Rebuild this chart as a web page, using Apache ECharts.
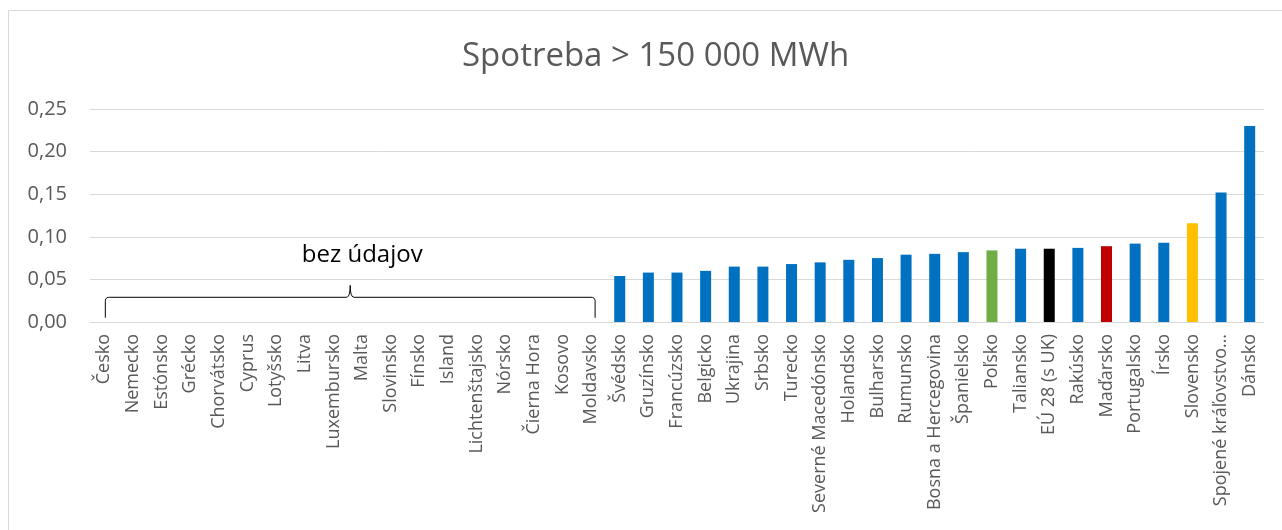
<!DOCTYPE html>
<html>
<head>
<meta charset="utf-8">
<script src="https://cdn.jsdelivr.net/npm/echarts@6/dist/echarts.min.js"></script>
<style>
  html, body { margin: 0; padding: 0; background: #fff; }
  #chart { width: 1282px; height: 530px; }
</style>
</head>
<body>
<div id="chart"></div>
<script>
// krajiny (bez údajov = prvých 18)
const categories = [
  'Česko', 'Nemecko', 'Estónsko', 'Grécko', 'Chorvátsko', 'Cyprus', 'Lotyšsko', 'Litva',
  'Luxembursko', 'Malta', 'Slovinsko', 'Fínsko', 'Island', 'Lichtenštajsko', 'Nórsko',
  'Čierna Hora', 'Kosovo', 'Moldavsko',
  'Švédsko', 'Gruzínsko', 'Francúzsko', 'Belgicko', 'Ukrajina', 'Srbsko', 'Turecko',
  'Severné Macedónsko', 'Holandsko', 'Bulharsko', 'Rumunsko', 'Bosna a Hercegovina',
  'Španielsko', 'Poľsko', 'Taliansko', 'EÚ 28 (s UK)', 'Rakúsko', 'Maďarsko',
  'Portugalsko', 'Írsko', 'Slovensko', 'Spojené kráľovstvo…', 'Dánsko'
];
// hodnoty (null = bez údajov)
const values = [
  null, null, null, null, null, null, null, null, null, null, null, null, null, null, null,
  null, null, null,
  0.054, 0.058, 0.058, 0.060, 0.065, 0.065, 0.068, 0.070, 0.073, 0.075, 0.079, 0.080,
  0.082, 0.084, 0.086, 0.086, 0.087, 0.089, 0.092, 0.093, 0.116, 0.152, 0.230
];
const yTicks = [0, 0.05, 0.10, 0.15, 0.20, 0.25];

// farby zvýraznených stĺpcov
const barColor = '#0070C0';
const highlight = {
  'Poľsko': '#70AD47',
  'EÚ 28 (s UK)': '#000000',
  'Maďarsko': '#C00000',
  'Slovensko': '#FFC000'
};

const chart = echarts.init(document.getElementById('chart'));

const option = {
  backgroundColor: '#fff',
  animation: false,
  title: {
    text: 'Spotreba > 150 000 MWh',
    left: 457,
    top: 35,
    textStyle: {
      color: '#595959',
      fontFamily: 'Open Sans',
      fontSize: 33,
      fontWeight: 'normal'
    }
  },
  grid: {
    left: 90,
    right: 18,
    top: 109,
    bottom: 208,
    containLabel: false
  },
  xAxis: {
    type: 'category',
    data: categories,
    axisTick: { show: false },
    axisLine: { lineStyle: { color: '#d9d9d9', width: 1 } },
    axisLabel: {
      interval: 0,
      rotate: 90,
      margin: 12,
      color: '#595959',
      fontFamily: 'Open Sans',
      fontSize: 18
    }
  },
  yAxis: {
    type: 'value',
    min: yTicks[0],
    max: yTicks[yTicks.length - 1],
    interval: 0.05,
    axisLine: { show: false },
    axisTick: { show: false },
    axisLabel: {
      margin: 23,
      color: '#595959',
      fontFamily: 'Open Sans',
      fontSize: 20,
      formatter: v => v.toFixed(2).replace('.', ',')
    },
    splitLine: { lineStyle: { color: '#d9d9d9', width: 1 } }
  },
  series: [
    {
      type: 'bar',
      barWidth: 11,
      data: values.map((v, i) => ({
        value: v,
        itemStyle: { color: highlight[categories[i]] || barColor }
      }))
    }
  ]
};

chart.setOption(option);

// zátvorka "bez údajov" nad prázdnymi krajinami
const px = (i, v) => chart.convertToPixel({ xAxisIndex: 0, yAxisIndex: 0 }, [i, v]);
const first = px(0, 0.005);
const last = px(17, 0.005);
const xl = first[0] + 1, xr = last[0] + 4, yb = first[1];
const yh = px(0, 0.029)[1];
const yp = px(0, 0.043)[1];
const xm = (xl + xr) / 2;
const r = 4;

// kvadratická krivka -> body
function quad(p0, p1, p2, n) {
  const out = [];
  for (let k = 1; k <= n; k++) {
    const t = k / n, u = 1 - t;
    out.push([
      u * u * p0[0] + 2 * u * t * p1[0] + t * t * p2[0],
      u * u * p0[1] + 2 * u * t * p1[1] + t * t * p2[1]
    ]);
  }
  return out;
}
let pts = [[xl, yb], [xl, yh + r]];
pts = pts.concat(quad([xl, yh + r], [xl, yh], [xl + r, yh], 6));
pts.push([xm - r, yh]);
pts = pts.concat(quad([xm - r, yh], [xm, yh], [xm, yp], 6));
pts = pts.concat(quad([xm, yp], [xm, yh], [xm + r, yh], 6));
pts.push([xr - r, yh]);
pts = pts.concat(quad([xr - r, yh], [xr, yh], [xr, yh + r], 6));
pts.push([xr, yb]);

chart.setOption({
  graphic: [
    {
      type: 'rect',
      shape: { x: 8.5, y: 10.5, width: 1300, height: 560 },
      style: { fill: 'none', stroke: '#d9d9d9', lineWidth: 1 },
      silent: true
    },
    {
      type: 'polyline',
      shape: { points: pts },
      style: { fill: 'none', stroke: '#000', lineWidth: 1 },
      silent: true
    },
    {
      type: 'text',
      x: xm + 12,
      y: px(0, 0.078)[1],
      style: {
        text: 'bez údajov',
        fill: '#000',
        font: '24px "Open Sans"',
        textAlign: 'center',
        textVerticalAlign: 'middle'
      },
      silent: true
    }
  ]
});
</script>
</body>
</html>
